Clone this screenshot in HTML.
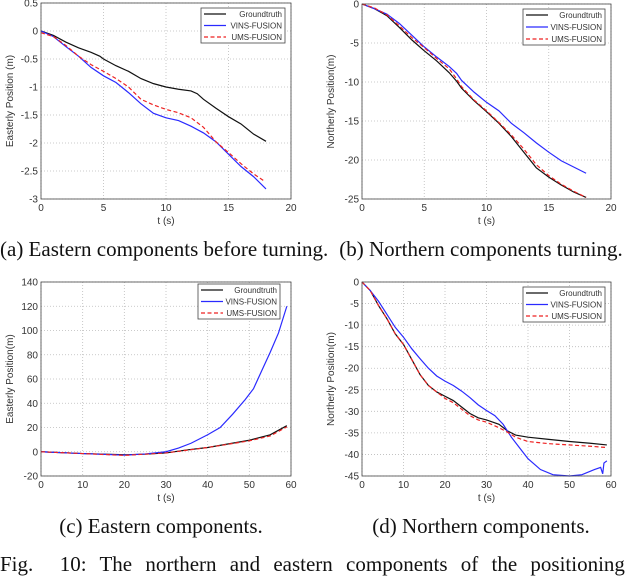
<!DOCTYPE html>
<html><head><meta charset="utf-8"><style>
body{margin:0;background:#fff;width:640px;height:574px;overflow:hidden;position:relative;font-family:"Liberation Sans",sans-serif}
.cap{position:absolute;font-family:"Liberation Serif",serif;font-size:21px;color:#111;white-space:nowrap;text-align:center}
</style></head><body>
<svg id="s" width="640" height="574" style="position:absolute;left:0;top:0"></svg>
<div class="cap" style="left:0;width:322px;top:237px">(a) Eastern components before turning.</div>
<div class="cap" style="left:322px;width:318px;top:237px">(b) Northern components turning.</div>
<div class="cap" style="left:0;width:322px;top:514px">(c) Eastern components.</div>
<div class="cap" style="left:322px;width:318px;top:514px">(d) Northern components.</div>
<div class="cap" style="left:0;top:552px;width:660px;text-align:left;word-spacing:8px;font-size:21px">Fig.&nbsp; 10: The northern and eastern components of the positioning</div>
<script>
const aT=[0,1,2,3,4,4.7,5,6,7,8,9,10,11,12,12.5,13,14,15,16,17,18];
const aGT=[0,-0.08,-0.2,-0.3,-0.38,-0.45,-0.5,-0.62,-0.72,-0.85,-0.94,-1.0,-1.04,-1.07,-1.12,-1.22,-1.38,-1.53,-1.66,-1.84,-1.97];
const aVT=[0,1,2,3,4,5,6,7,8,9,10,11,12,13,14,15,16,17,18];
const aV=[0,-0.1,-0.28,-0.45,-0.65,-0.8,-0.92,-1.1,-1.3,-1.47,-1.55,-1.6,-1.7,-1.82,-1.98,-2.2,-2.42,-2.6,-2.82];
const aUT=[0,1,2,3,4,5,6,7,8,9,10,11,12,13,14,15,16,17,17.8];
const aU=[-0.03,-0.1,-0.26,-0.45,-0.6,-0.72,-0.85,-1.0,-1.22,-1.32,-1.4,-1.46,-1.55,-1.72,-1.98,-2.17,-2.37,-2.55,-2.67];
const bT=[0,1,2,3,4,5,6,7,7.6,8,9,10,11,12,13,14,15,16,17,18];
const bGT=[0,-0.6,-1.5,-3,-4.6,-6,-7.3,-8.8,-9.9,-10.8,-12.4,-13.8,-15.3,-17,-19,-21,-22.2,-23.2,-24.1,-24.8];
const bV=[0,-0.6,-1.3,-2.5,-4,-5.5,-6.8,-8,-8.9,-9.8,-11.3,-12.6,-13.7,-15.3,-16.5,-17.8,-19,-20.1,-20.9,-21.7];
const bU=[0,-0.5,-1.4,-2.8,-4.3,-5.6,-7,-8.3,-9.6,-10.6,-12.3,-13.7,-15.2,-16.8,-18.6,-20.6,-22,-23.1,-24,-24.8];
const cGT_T=[0,10,20,25,30,35,40,45,50,55,59];
const cGT=[0,-1.5,-2.5,-2,-1,1.5,3.5,6.5,9.5,14,21.5];
const cVT=[0,10,20,25,30,33,36,40,43,46,49,51,53,55,57,59];
const cV=[0,-1.5,-2.8,-1.8,0,3,7,14,20,31,43,52,67,82,98,120];
const cUT=[0,10,20,30,40,50,55,59];
const cU=[0,-1.5,-3,-1,3.5,9,13,20.5];
const dT=[0,2,4,6,8,10,12,14,16,18,20,22,24,26,28,30,33,35,37,40,45,50,55,59];
const dGT=[0,-2,-5.5,-8.5,-12,-14.5,-18,-21.5,-24,-25.5,-26.5,-27.5,-29,-30.5,-31.5,-32,-33,-34.5,-35.5,-36,-36.5,-37,-37.4,-37.8];
const dU=[0,-2,-5.5,-8.5,-12,-14.5,-18,-21.5,-24,-25.5,-27,-28,-29.5,-31,-32,-32.5,-33.8,-34.8,-36,-37,-37.5,-37.8,-38.1,-38.4];
const dVT=[0,2,4,6,8,10,12,14,16,18,20,22,24,26,28,30,32,34,36,38,40,43,46,50,53,56,57.5,58,58.3,59];
const dV=[0,-2,-4.5,-7.5,-10.5,-12.8,-15.5,-17.8,-20,-21.8,-23,-24,-25.3,-26.8,-28.5,-29.8,-31,-33,-36,-38.5,-41,-43.5,-44.7,-45,-44.7,-43.5,-43,-44.5,-42,-41.5];
const aXT=[0,5,10,15,20], aYT=[0.5,0,-0.5,-1,-1.5,-2,-2.5,-3];
const bYT=[0,-5,-10,-15,-20,-25];
const cXT=[0,10,20,30,40,50,60], cYT=[140,120,100,80,60,40,20,0,-20];
const dYT=[0,-5,-10,-15,-20,-25,-30,-35,-40,-45];
const legendNames=["Groundtruth","VINS-FUSION","UMS-FUSION"];

const NS="http://www.w3.org/2000/svg", svg=document.getElementById('s');
function mk(t,a,p){const e=document.createElementNS(NS,t);for(const k in a)e.setAttribute(k,a[k]);(p||svg).appendChild(e);return e;}
function panel(id,box,xr,yr,xt,yt,ylab,series,leg){
  const [L,T,R,B]=box;
  const g=mk('g',{});
  
  
  const X=v=>L+(v-xr[0])/(xr[1]-xr[0])*(R-L), Y=v=>T+(yr[1]-v)/(yr[1]-yr[0])*(B-T);
  mk('rect',{x:L,y:T,width:R-L,height:B-T,fill:'#fff'},g);
  xt.forEach(v=>{const l=mk('line',{x1:X(v),x2:X(v),y1:T,y2:B,stroke:'#bbb','stroke-dasharray':'1,2','stroke-width':0.8},g);
    const t=mk('text',{x:X(v),y:B+12,'font-size':10,'text-anchor':'middle',fill:'#333'},g);t.textContent=v;});
  yt.forEach(v=>{const l=mk('line',{x1:L,x2:R,y1:Y(v),y2:Y(v),stroke:'#bbb','stroke-dasharray':'1,2','stroke-width':0.8},g);
    const t=mk('text',{x:L-3,y:Y(v)+3.5,'font-size':10,'text-anchor':'end',fill:'#333'},g);t.textContent=v;});
  series.forEach((s,i)=>{const p=mk('polyline',{points:s[0].map((t,k)=>X(t)+','+Y(s[1][k])).join(' '),fill:'none',stroke:s[2],'stroke-width':1.2,'stroke-dasharray':s[3]||'none'},g);
    });
  mk('rect',{x:L,y:T,width:R-L,height:B-T,fill:'none',stroke:'#444','stroke-width':0.8},g);
  const xl=mk('text',{x:(L+R)/2,y:B+25,'font-size':10,'text-anchor':'middle',fill:'#333'},g);xl.textContent='t (s)';
  const yl=mk('text',{transform:`translate(${L-28},${(T+B)/2}) rotate(-90)`,'font-size':10,'text-anchor':'middle',fill:'#333'},g);yl.textContent=ylab;
  const [lx,ly,lw,lh]=leg;
  const lg=mk('g',{},g);
  mk('rect',{x:lx,y:ly,width:lw,height:lh,fill:'#fff',stroke:'#444','stroke-width':0.8},lg);
  series.forEach((s,i)=>{const yy=ly+6+i*(lh-12)/2;
    mk('line',{x1:lx+3,x2:lx+25,y1:yy,y2:yy,stroke:s[2],'stroke-width':1.3,'stroke-dasharray':s[3]||'none'},lg);
    const t=mk('text',{x:lx+lw-3,y:yy+3,'font-size':8,'text-anchor':'end',fill:'#333'},lg);t.textContent=legendNames[i];
    });
}
const K='#111',Bl='#2a2aff',Rd='#ee2222',D='4,2.5';
panel('a',[41,3,291,199],[0,20],[-3,0.5],aXT,aYT,'Easterly Position (m)',[[aT,aGT,K],[aVT,aV,Bl],[aUT,aU,Rd,D]],[201,8,84,35]);
panel('b',[362,4,611,199],[0,20],[-25,0],aXT,bYT,'Northerly Position(m)',[[bT,bGT,K],[bT,bV,Bl],[bT,bU,Rd,D]],[523,9,82,36]);
panel('c',[41,282,291,476],[0,60],[-20,140],cXT,cYT,'Easterly Position(m)',[[cGT_T,cGT,K],[cVT,cV,Bl],[cUT,cU,Rd,D]],[198,284,82,35]);
panel('d',[362,282,611,476],[0,60],[-45,0],cXT,dYT,'Northerly Position(m)',[[dT,dGT,K],[dVT,dV,Bl],[dT,dU,Rd,D]],[523,287,82,35]);
</script>
</body></html>
